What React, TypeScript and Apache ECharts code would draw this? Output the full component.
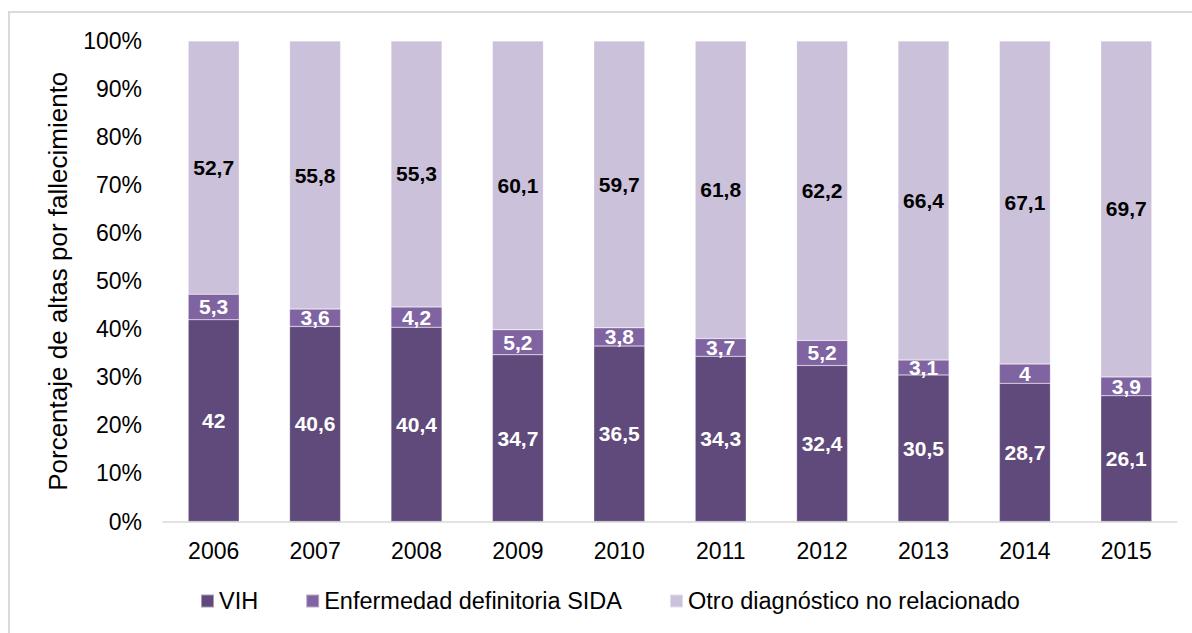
import React, { useEffect, useRef } from "react";
import * as echarts from "echarts";

const years = ["2006", "2007", "2008", "2009", "2010", "2011", "2012", "2013", "2014", "2015"];
const vih = [42, 40.6, 40.4, 34.7, 36.5, 34.3, 32.4, 30.5, 28.7, 26.1];
const sida = [5.3, 3.6, 4.2, 5.2, 3.8, 3.7, 5.2, 3.1, 4, 3.9];
const otro = [52.7, 55.8, 55.3, 60.1, 59.7, 61.8, 62.2, 66.4, 67.1, 69.7];
const seriesNames = ["VIH", "Enfermedad definitoria SIDA", "Otro diagnóstico no relacionado"];
const colors = ["#604A7B", "#8064A2", "#CCC1DA"];
const font = "'Liberation Sans', Arial, sans-serif";

export default function App() {
  const ref = useRef<HTMLDivElement>(null);
  useEffect(() => {
    document.body.style.margin = "0";
    document.body.style.overflow = "hidden";
    if (!ref.current) return;
    const chart = echarts.init(ref.current, undefined, { renderer: "svg" });
    const raw = [vih, sida, otro];
    const totals = years.map((_, i) => vih[i] + sida[i] + otro[i]);
    const fmt = (v: number) => String(v).replace(".", ",");
    chart.setOption({
      animation: false,
      textStyle: { fontFamily: font },
      graphic: [
        {
          type: "rect",
          shape: { x: 9, y: 12, width: 1400, height: 800 },
          style: { fill: "none", stroke: "#D9D9D9", lineWidth: 2 },
          silent: true,
        },
      ],
      grid: { left: 163, right: 15, top: 41, bottom: 111.5 },
      legend: {
        left: 200,
        top: 589,
        padding: 0,
        itemWidth: 13,
        itemHeight: 13,
        itemGap: 47,
        icon: "rect",
        textStyle: { fontSize: 23.5, color: "#000", fontFamily: font },
        data: seriesNames,
      },
      xAxis: {
        type: "category",
        data: years,
        axisLine: { lineStyle: { color: "#D9D9D9", width: 1.5 } },
        axisTick: { show: false },
        axisLabel: { fontSize: 23, color: "#000", margin: 18, fontFamily: font },
      },
      yAxis: {
        type: "value",
        min: 0,
        max: 100,
        interval: 10,
        name: "Porcentaje de altas por fallecimiento",
        nameLocation: "middle",
        nameGap: 92,
        nameTextStyle: { fontSize: 26, color: "#000", fontFamily: font },
        axisLine: { show: false },
        axisTick: { show: false },
        splitLine: { show: false },
        axisLabel: {
          fontSize: 23,
          color: "#000",
          margin: 21,
          fontFamily: font,
          formatter: (v: number) => v + "%",
        },
      },
      series: raw.map((arr, si) => ({
        name: seriesNames[si],
        type: "bar",
        stack: "total",
        barWidth: 51,
        itemStyle: { color: colors[si], borderColor: "rgba(255,255,255,0.45)", borderWidth: 0.5 },
        label: {
          show: true,
          position: "inside",
          fontSize: 21,
          fontWeight: "bold",
          fontFamily: font,
          color: si === 2 ? "#000" : "#fff",
          formatter: (p: any) => fmt(arr[p.dataIndex]),
        },
        data: arr.map((v, i) => (v / totals[i]) * 100),
      })),
    });
    return () => chart.dispose();
  }, []);
  return <div ref={ref} style={{ width: 1192, height: 633 }} />;
}
